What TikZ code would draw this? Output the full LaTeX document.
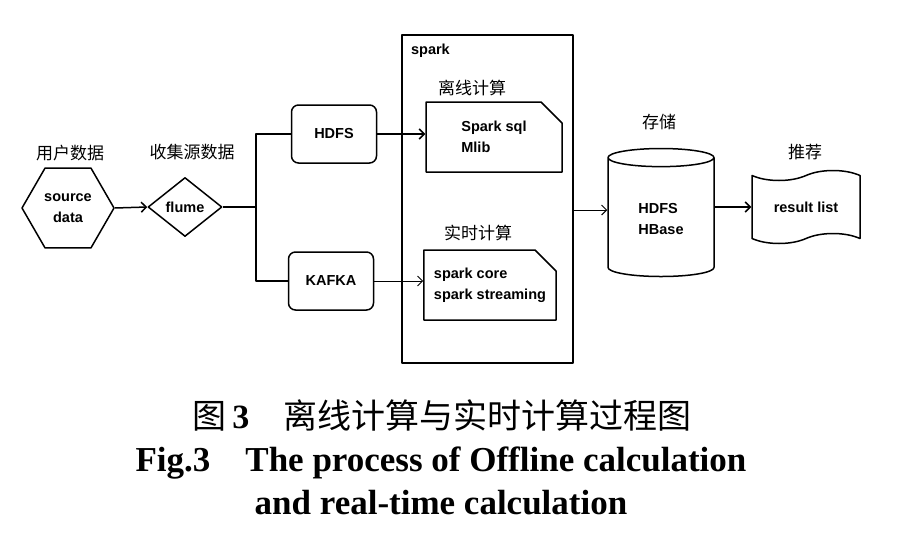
\documentclass[tikz,border=0pt]{standalone}
\usepackage{fontspec}
\setmainfont{Liberation Serif}
\newfontfamily\cjk{Noto Sans CJK SC}
\newfontfamily\lab{Liberation Sans}
\usetikzlibrary{shapes.geometric,shapes.symbols,shapes.misc,arrows.meta,positioning}
\begin{document}
\begin{tikzpicture}[x=1pt,y=-1pt,line join=round,>={Straight Barb[length=5pt,width=10pt]},line width=1.5pt,
	font=\lab\bfseries\fontsize{14.5}{21}\selectfont,
	box/.style={draw,rounded corners=7pt,minimum width=85pt,minimum height=58pt},
	doc/.style={draw,chamfered rectangle,chamfered rectangle corners=north east,chamfered rectangle xsep=10pt,chamfered rectangle ysep=11pt,align=left,inner sep=0pt},
	cn/.style={font=\cjk\fontsize{17}{19}\selectfont},
	captext/.style={font=\bfseries\fontsize{35}{38}\selectfont}]
	\useasboundingbox (0,0) rectangle (908,557);
	\node[draw,regular polygon,regular polygon sides=6,minimum size=92pt,inner sep=0pt,align=center] (src) at (68,208) {source\\data};
	\node[draw,diamond,aspect=1.25,minimum width=74pt,minimum height=59pt,inner sep=0pt] (flume) at (185,207) {flume};
	\node[box] (hdfs) at (334,134) {HDFS};
	\node[box] (kafka) at (331,281) {KAFKA};
	\node[draw,minimum width=171pt,minimum height=328pt] (spark) at (487.5,199) {};
	\node[anchor=west] (sparklbl) at (407,51) {spark};
	\node[doc,minimum width=136pt,minimum height=70pt] (off) at (494,137) {Spark sql\\Mlib};
	\node[doc,minimum width=132pt,minimum height=70pt] (rt) at (490,285) {spark core\\spark streaming};
	\node[draw,cylinder,shape border rotate=90,aspect=0.35,minimum width=106pt,minimum height=128pt,align=left] (store) at (661,219) {HDFS\\HBase};
	\node[draw,tape,tape bend height=10pt,minimum width=108pt,minimum height=73pt] (res) at (806,207) {result list};
	\node[cn] (srclbl) at (70,153) {用户数据};
	\node[cn] (flumelbl) at (192,152) {收集源数据};
	\node[cn] (offlbl) at (472,88) {离线计算};
	\node[cn] (rtlbl) at (478,233) {实时计算};
	\node[cn] (storelbl) at (659,122) {存储};
	\node[cn] (reslbl) at (805,152) {推荐};
	\coordinate (split) at (256,207);
	\draw[->] (src.east) -- (flume.west);
	\draw (flume.east) -- (split);
	\draw (split) |- (hdfs.west);
	\draw (split) |- (kafka.west);
	\draw[->] (hdfs.east) -- (hdfs.east -| off.west);
	\draw[->,line width=1pt] (kafka.east) -- (kafka.east -| rt.west);
	\draw[->,line width=1pt] (spark.east |- 0,210) -- (store.west |- 0,210);
	\draw[->] (store.east |- res.center) -- (res.west);
	\node[font=\fontsize{34}{38}\selectfont] (capcn) at (442,415) {{\cjk 图}\,\textbf{3}\hspace{1em}{\cjk 离线计算与实时计算过程图}};
	\node[captext] (capen) at (441,463) {Fig.3\hspace{1em}The process of Offline calculation};
	\node[captext] (capen2) at (441,503) {and real-time calculation};
\end{tikzpicture}
\end{document}
